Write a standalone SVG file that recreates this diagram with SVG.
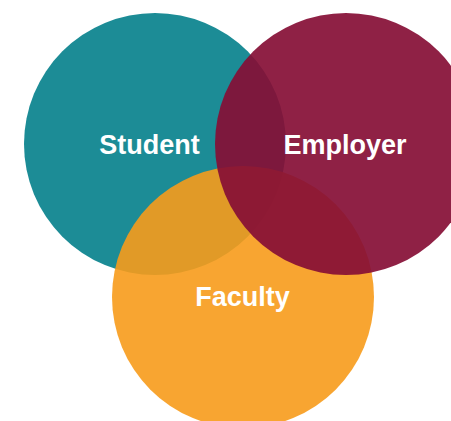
<svg xmlns="http://www.w3.org/2000/svg" width="451" height="421" viewBox="0 0 451 421">
  <style>
    .lbl { font-family: "Liberation Sans", Arial, Helvetica, sans-serif; font-weight: bold; font-size: 27px; fill: #ffffff; text-anchor: middle; }
  </style>
  <rect width="451" height="421" fill="#ffffff"/>
  <g id="student">
    <circle cx="155" cy="144" r="131" fill="#1C8C96"/>
  </g>
  <g id="faculty">
    <circle cx="243" cy="297" r="131" fill="#F79B1B" fill-opacity="0.9"/>
  </g>
  <g id="employer">
    <circle cx="346" cy="144" r="131" fill="#860E35" fill-opacity="0.92"/>
  </g>
  <g id="labels">
    <text class="lbl" x="149.5" y="154">Student</text>
    <text class="lbl" x="345" y="154">Employer</text>
    <text class="lbl" x="242.5" y="306">Faculty</text>
  </g>
</svg>
